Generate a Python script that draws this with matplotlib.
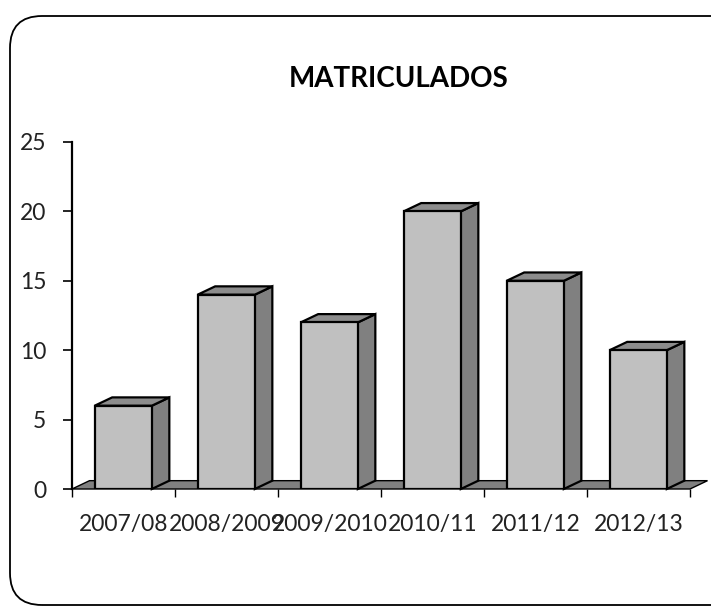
import matplotlib.pyplot as plt
from matplotlib.patches import Polygon, FancyBboxPatch

cursos = ['2007/08', '2008/2009', '2009/2010', '2010/11', '2011/12', '2012/13']
matriculados = [6, 14, 12, 20, 15, 10]

plt.rcParams['font.family'] = ['Lato', 'DejaVu Sans']

fig = plt.figure(figsize=(7.11, 6.10), dpi=100)

# rounded chart border (in inches), right side runs off the picture
borde = FancyBboxPatch((0.10, 0.05), 7.6, 5.89,
                       boxstyle='round,pad=0,rounding_size=0.32',
                       transform=fig.dpi_scale_trans, fill=False,
                       edgecolor='black', linewidth=1.3)
fig.patches.append(borde)

ax = fig.add_axes([72 / 711, 121 / 610, 618 / 711, 347 / 610])
ax.set_xlim(0, len(cursos))
ax.set_ylim(0, 25)

# 3d look: depth offset in data units
dx, dy = 0.17, 0.6
ancho = 0.555
x0 = 0.22

# floor
suelo = Polygon([(0, 0), (len(cursos), 0), (len(cursos) + dx, dy), (dx, dy)],
                closed=True, facecolor='#808080', edgecolor='black',
                linewidth=1.0, clip_on=False, zorder=1)
ax.add_patch(suelo)

for i, v in enumerate(matriculados):
    x = i + x0
    ax.bar(x, v, width=ancho, align='edge', color='#C0C0C0',
           edgecolor='black', linewidth=1.6, zorder=3)
    lado = Polygon([(x + ancho, 0), (x + ancho + dx, dy),
                    (x + ancho + dx, v + dy), (x + ancho, v)],
                   closed=True, facecolor='#808080', edgecolor='black',
                   linewidth=1.6, clip_on=False, zorder=2)
    tapa = Polygon([(x, v), (x + dx, v + dy), (x + ancho + dx, v + dy),
                    (x + ancho, v)],
                   closed=True, facecolor='#8c8c8c', edgecolor='black',
                   linewidth=1.6, clip_on=False, zorder=2)
    ax.add_patch(lado)
    ax.add_patch(tapa)

for s in ['top', 'right', 'bottom']:
    ax.spines[s].set_visible(False)
ax.spines['left'].set_linewidth(1.6)
ax.spines['left'].set_zorder(4)

ax.set_yticks(range(0, 26, 5))
ax.tick_params(axis='y', direction='out', length=6.5, width=1.2,
               pad=12, labelsize=16.5, labelcolor='#222222')

ax.set_xticks(range(len(cursos) + 1))
ax.set_xticklabels([])
ax.set_xticks([i + 0.5 for i in range(len(cursos))], minor=True)
ax.set_xticklabels(cursos, minor=True)
ax.tick_params(axis='x', which='major', direction='out', length=5.5, width=1.0)
ax.tick_params(axis='x', which='minor', length=0, pad=18,
               labelsize=16.5, labelcolor='#222222')

fig.text(399 / 711, 1 - 79 / 610, 'MATRICULADOS', ha='center', va='center',
         fontsize=20, fontweight='bold', color='black')

fig.savefig('out.png', dpi=100)
